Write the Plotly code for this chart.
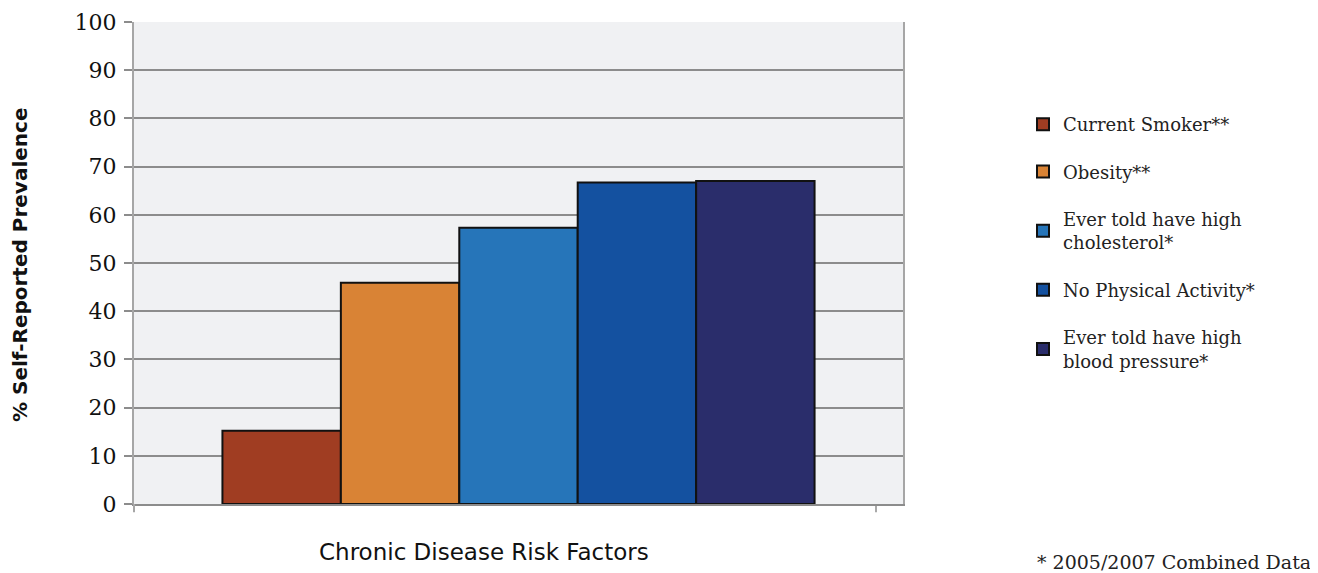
import plotly.graph_objects as go

category = ["Chronic Disease Risk Factors"]
series_names = [
    "Current Smoker**",
    "Obesity**",
    "Ever told have high<br>cholesterol*",
    "No Physical Activity*",
    "Ever told have high<br>blood pressure*",
]
series_values = [15.2, 45.9, 57.3, 66.7, 67.0]
series_colors = ["#a03d22", "#d98335", "#2675b9", "#1451a0", "#2a2d6b"]
y_ticks = [0, 10, 20, 30, 40, 50, 60, 70, 80, 90, 100]

# page body has an 8px margin; figure coords = window coords - 8
L, T, PW, PH = 126, 14, 769, 482
W, H = 1310, 565

def px(xw):
    return (xw - 8 - L) / PW

def py(yw):
    return 1 - (yw - 8 - T) / PH

fig = go.Figure()
for i, (name, val, col) in enumerate(zip(series_names, series_values, series_colors)):
    fig.add_trace(go.Bar(
        x=category, y=[val], name=name, legendgroup=f"g{i}",
        marker=dict(color=col, line=dict(color="#111111", width=2)),
        hoverinfo="skip",
    ))

fig.update_layout(
    width=W, height=H,
    margin=dict(l=L, r=W - L - PW, t=T, b=H - T - PH, autoexpand=False),
    paper_bgcolor="white",
    plot_bgcolor="#f0f1f3",
    barmode="group",
    bargap=0.23,
    bargroupgap=0,
    showlegend=True,
    legend=dict(
        x=px(1023), y=py(106), xanchor="left", yanchor="top",
        font=dict(family="DejaVu Serif, serif", size=18, color="#222222"),
        tracegroupgap=21,
        traceorder="grouped",
        itemwidth=30,
        bgcolor="rgba(0,0,0,0)",
    ),
    xaxis=dict(
        showticklabels=False,
        showline=True, linecolor="#8c8c8c", linewidth=2,
        showgrid=False,
        fixedrange=True,
    ),
    yaxis=dict(
        range=[0, 100],
        tickvals=y_ticks,
        ticks="outside", ticklen=8, tickcolor="#8c8c8c", tickwidth=1.5,
        tickfont=dict(family="DejaVu Serif, serif", size=22, color="#111111"),
        ticklabelstandoff=3,
        showgrid=True, gridcolor="#8c8c8c", gridwidth=1.5,
        showline=True, linecolor="#a6a6a6", linewidth=2, mirror=True,
        zeroline=False,
    ),
)

# axis titles
fig.add_annotation(
    text="Chronic Disease Risk Factors", xref="paper", yref="paper",
    x=px(484), y=py(552), xanchor="center", yanchor="middle", showarrow=False,
    font=dict(family="DejaVu Sans, sans-serif", size=23, color="#111111"),
)
fig.add_annotation(
    text="% Self-Reported Prevalence", xref="paper", yref="paper",
    x=px(20), y=py(265), xanchor="center", yanchor="middle", showarrow=False,
    textangle=-90,
    font=dict(family="DejaVu Sans, sans-serif", size=20, color="#111111", weight="bold"),
)

# small axis extension ticks below the plot bottom
fig.add_shape(type="line", xref="paper", yref="paper", x0=0, x1=0, y0=0, y1=-0.017,
              line=dict(color="#a6a6a6", width=2))
fig.add_shape(type="line", xref="paper", yref="paper", x0=px(876), x1=px(876), y0=0, y1=-0.017,
              line=dict(color="#8c8c8c", width=1.5))

fig.add_annotation(
    text="* 2005/2007 Combined Data", xref="paper", yref="paper",
    x=px(1035), y=py(562), xanchor="left", yanchor="middle",
    showarrow=False,
    font=dict(family="DejaVu Serif, serif", size=19, color="#222222"),
)

fig.write_html("out.html")
